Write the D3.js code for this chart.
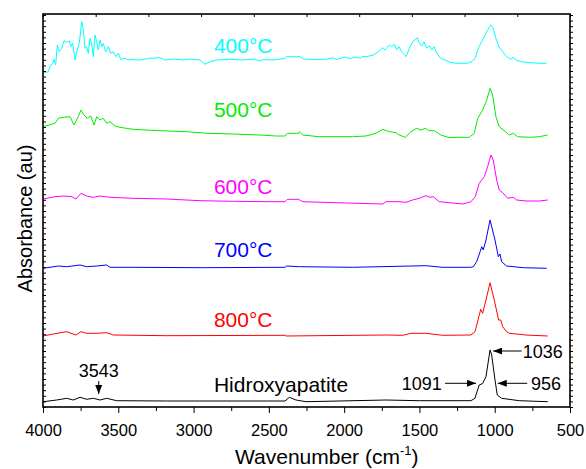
<!DOCTYPE html>
<html>
<head>
<meta charset="utf-8">
<script src="https://cdnjs.cloudflare.com/ajax/libs/d3/7.8.5/d3.min.js"></script>
<style>
  body { margin: 0; background: #fff; }
  svg { display: block; font-family: "Liberation Sans", Arial, sans-serif; }
</style>
</head>
<body>
<svg id="chart" width="586" height="469"></svg>
<script>
// spectra as [wavenumber (cm-1), absorbance (au, stacked)]
const spec400 = [
  [4000, 3.337], [3965, 3.353], [3954, 3.403], [3936, 3.437], [3927, 3.477], [3916, 3.42],
  [3905, 3.62], [3892, 3.553], [3876, 3.587], [3861, 3.663], [3843, 3.647], [3825, 3.66],
  [3816, 3.603], [3803, 3.637], [3787, 3.47], [3772, 3.577], [3759, 3.637], [3743, 3.853],
  [3732, 3.77], [3721, 3.587], [3710, 3.603], [3699, 3.537], [3688, 3.687], [3677, 3.637],
  [3666, 3.503], [3655, 3.72], [3643, 3.653], [3633, 3.57], [3621, 3.67], [3610, 3.603],
  [3600, 3.637], [3584, 3.553], [3566, 3.603], [3551, 3.537], [3533, 3.553], [3515, 3.503],
  [3500, 3.537], [3484, 3.477], [3455, 3.487], [3434, 3.47], [3411, 3.477], [3378, 3.47],
  [3356, 3.47], [3289, 3.487], [3223, 3.493], [3190, 3.47], [3135, 3.48], [3068, 3.47],
  [3024, 3.48], [2957, 3.47], [2924, 3.427], [2891, 3.453], [2846, 3.47], [2758, 3.477],
  [2670, 3.47], [2592, 3.48], [2570, 3.46], [2537, 3.473], [2471, 3.47], [2393, 3.487],
  [2382, 3.503], [2293, 3.503], [2271, 3.48], [2182, 3.473], [2116, 3.48], [2072, 3.493],
  [2050, 3.473], [2028, 3.487], [1994, 3.50], [1961, 3.485], [1928, 3.50], [1895, 3.487],
  [1875, 3.505], [1850, 3.503], [1806, 3.52],
  [1773, 3.553], [1744, 3.593], [1729, 3.57], [1700, 3.62], [1684, 3.603], [1667, 3.627],
  [1651, 3.57], [1636, 3.603], [1618, 3.553], [1589, 3.503], [1567, 3.587], [1545, 3.653],
  [1530, 3.67], [1514, 3.693], [1501, 3.637], [1485, 3.613], [1470, 3.653], [1452, 3.587],
  [1435, 3.613], [1419, 3.57], [1403, 3.603], [1385, 3.537], [1359, 3.487], [1330, 3.47],
  [1297, 3.447], [1253, 3.437], [1186, 3.437], [1153, 3.453], [1131, 3.487], [1109, 3.587],
  [1087, 3.653], [1053, 3.753], [1027, 3.82], [1014, 3.803], [992, 3.687], [970, 3.597],
  [947, 3.553], [921, 3.503], [894, 3.477], [877, 3.497], [859, 3.47], [821, 3.453],
  [766, 3.443], [699, 3.437], [655, 3.437]
];

const spec500 = [
  [3998, 2.803], [3920, 2.837], [3898, 2.887], [3865, 2.897], [3821, 2.903], [3794, 2.82],
  [3766, 2.903], [3748, 2.97], [3728, 2.92], [3706, 2.887], [3683, 2.91], [3661, 2.82],
  [3643, 2.903], [3621, 2.87], [3600, 2.887], [3577, 2.837], [3555, 2.853], [3522, 2.81],
  [3489, 2.797], [3402, 2.777], [3223, 2.763], [3046, 2.753], [2913, 2.737], [2736, 2.73],
  [2559, 2.72], [2448, 2.71], [2393, 2.71], [2378, 2.737], [2302, 2.737], [2298, 2.753],
  [2275, 2.72], [2165, 2.703], [2054, 2.703], [1943, 2.703], [1855, 2.71], [1789, 2.737],
  [1744, 2.777], [1700, 2.753], [1656, 2.743], [1634, 2.72], [1594, 2.697], [1556, 2.753],
  [1518, 2.787], [1490, 2.77], [1461, 2.787], [1435, 2.763], [1401, 2.763], [1357, 2.72],
  [1302, 2.693], [1235, 2.697], [1169, 2.697], [1136, 2.737], [1113, 2.887], [1080, 2.97],
  [1053, 3.07], [1031, 3.187], [1014, 3.12], [992, 2.903], [970, 2.803], [937, 2.763],
  [903, 2.72], [877, 2.737], [848, 2.703], [770, 2.697], [704, 2.703], [648, 2.72]
];

const spec600 = [
  [3998, 2.08], [3920, 2.103], [3865, 2.11], [3809, 2.103], [3781, 2.08], [3748, 2.137],
  [3710, 2.11], [3666, 2.097], [3621, 2.11], [3555, 2.097], [3402, 2.087], [3179, 2.08],
  [2957, 2.063], [2736, 2.057], [2514, 2.053], [2393, 2.053], [2378, 2.077], [2302, 2.077],
  [2275, 2.053], [2054, 2.043], [1744, 2.03], [1722, 2.053], [1634, 2.053], [1589, 2.047],
  [1545, 2.07], [1501, 2.087], [1457, 2.113], [1430, 2.097], [1408, 2.103], [1368, 2.053],
  [1302, 2.043], [1213, 2.03], [1158, 2.053], [1129, 2.103], [1103, 2.237], [1069, 2.303],
  [1047, 2.403], [1025, 2.52], [1010, 2.47], [987, 2.27], [970, 2.17], [947, 2.143],
  [914, 2.087], [877, 2.097], [854, 2.07], [792, 2.06], [704, 2.06], [648, 2.07]
];

const spec700 = [
  [3998, 1.387], [3898, 1.41], [3843, 1.403], [3754, 1.42], [3710, 1.403], [3643, 1.41],
  [3577, 1.42], [3555, 1.397], [3402, 1.397], [2957, 1.393], [2393, 1.397], [2382, 1.41],
  [2298, 1.403], [1943, 1.397], [1556, 1.41], [1457, 1.413], [1346, 1.397], [1158, 1.397],
  [1142, 1.403], [1120, 1.453], [1097, 1.553], [1086, 1.603], [1076, 1.57], [1058, 1.67],
  [1031, 1.87], [998, 1.67], [976, 1.503], [965, 1.53], [954, 1.453], [921, 1.41],
  [810, 1.393], [655, 1.387]
];

const spec800 = [
  [3998, 0.71], [3932, 0.73], [3843, 0.753], [3781, 0.72], [3748, 0.753], [3710, 0.737],
  [3643, 0.737], [3577, 0.743], [3533, 0.72], [3179, 0.713], [2393, 0.717], [2386, 0.71],
  [1722, 0.72], [1611, 0.717], [1556, 0.737], [1457, 0.737], [1346, 0.717], [1158, 0.72],
  [1131, 0.753], [1125, 0.787], [1093, 0.977], [1080, 0.937], [1058, 1.07], [1031, 1.243],
  [1003, 1.07], [974, 0.87], [960, 0.87], [947, 0.803], [921, 0.753], [903, 0.737],
  [792, 0.72], [648, 0.71]
];

const specHA = [
  [3998, 0.053], [3909, 0.07], [3843, 0.087], [3799, 0.07], [3754, 0.097], [3710, 0.077],
  [3666, 0.087], [3621, 0.07], [3577, 0.087], [3511, 0.063], [3179, 0.06], [2393, 0.06],
  [2364, 0.097], [2320, 0.07], [2253, 0.053], [1722, 0.07], [1501, 0.063], [1158, 0.063],
  [1131, 0.087], [1125, 0.12], [1103, 0.22], [1080, 0.235], [1058, 0.303], [1031, 0.57],
  [1020, 0.52], [998, 0.27], [983, 0.12], [954, 0.087], [837, 0.063], [648, 0.053]
];

const seriesNames = ["400°C", "500°C", "600°C", "700°C", "800°C", "Hidroxyapatite"];
const seriesData = [spec400, spec500, spec600, spec700, spec800, specHA];
const seriesColors = ["#00ffff", "#00ee00", "#ff00ff", "#0000ff", "#ff0000", "#000000"];
// label baseline (absorbance) for each trace name
const labelLevels = [3.537, 2.897, 2.127, 1.50, 0.803, 0.153];
const labelWavenumber = 2865;

const xMajorTicks = [4000, 3500, 3000, 2500, 2000, 1500, 1000, 500];

// peak annotations: text, text anchor point, arrow from -> to
const peakNotes = [
  { text: "3543", anchor: "middle", tx: 3630, ty: 0.30, from: [3630, 0.26], to: [3630, 0.13] },
  { text: "1036", anchor: "start", tx: 814, ty: 0.487, from: [821, 0.56], to: [1010, 0.56] },
  { text: "1091", anchor: "end", tx: 1352, ty: 0.17, from: [1330, 0.237], to: [1124, 0.237] },
  { text: "956", anchor: "start", tx: 759, ty: 0.17, from: [784, 0.237], to: [980, 0.237] }
];

const svg = d3.select("#chart");
const M = { left: 43, right: 570, top: 14, bottom: 407 };

const x = d3.scaleLinear().domain([4000, 500]).range([M.left, M.right]);
const y = d3.scaleLinear().domain([0, 3.93]).range([M.bottom, M.top]);

svg.append("defs").append("marker")
  .attr("id", "head")
  .attr("markerUnits", "userSpaceOnUse")
  .attr("markerWidth", 9).attr("markerHeight", 7)
  .attr("refX", 9).attr("refY", 3.5)
  .attr("orient", "auto")
  .append("path")
  .attr("d", "M0,0 L9,3.5 L0,7 Z")
  .attr("fill", "#000");

// spectra
const line = d3.line().x((d) => x(d[0])).y((d) => y(d[1]));
seriesData.forEach((data, i) => {
  svg.append("path")
    .datum(data)
    .attr("fill", "none")
    .attr("stroke", seriesColors[i])
    .attr("stroke-width", 1)
    .attr("stroke-linejoin", "round")
    .attr("d", line);

  svg.append("text")
    .attr("x", x(labelWavenumber))
    .attr("y", y(labelLevels[i]))
    .attr("fill", seriesColors[i])
    .attr("font-size", 21)
    .text(seriesNames[i]);
});

// annotations
peakNotes.forEach((n) => {
  svg.append("line")
    .attr("x1", x(n.from[0])).attr("y1", y(n.from[1]))
    .attr("x2", x(n.to[0])).attr("y2", y(n.to[1]))
    .attr("stroke", "#000").attr("stroke-width", 1)
    .attr("marker-end", "url(#head)");
  svg.append("text")
    .attr("x", x(n.tx)).attr("y", y(n.ty))
    .attr("text-anchor", n.anchor)
    .attr("font-size", 18)
    .text(n.text);
});

// axes
const minorX = d3.range(750, 4000, 500);
const topTicks = d3.range(0, 11).map((i) => 4000 - i * 350);
const yTicks = d3.range(0, 3.93, 0.056);

const gBottom = svg.append("g").attr("transform", `translate(0,${M.bottom})`);
gBottom.call(d3.axisBottom(x).tickValues(minorX).tickSize(4).tickFormat(""));
const gMajor = svg.append("g").attr("transform", `translate(0,${M.bottom})`);
gMajor.call(d3.axisBottom(x).tickValues(xMajorTicks).tickSize(6).tickPadding(11).tickFormat(d3.format("d")));
gMajor.selectAll("text").attr("font-size", 16.5).attr("font-family", "Liberation Sans, Arial, sans-serif").attr("fill", "#000");

svg.append("g").attr("transform", `translate(0,${M.top})`)
  .call(d3.axisTop(x).tickValues(topTicks).tickSize(-3).tickFormat(""));
svg.append("g").attr("transform", `translate(${M.left},0)`)
  .call(d3.axisLeft(y).tickValues(yTicks).tickSize(-3).tickFormat(""));
svg.append("g").attr("transform", `translate(${M.right},0)`)
  .call(d3.axisRight(y).tickValues(yTicks).tickSize(3).tickFormat(""));

svg.selectAll(".domain").remove();
svg.selectAll(".tick line").attr("stroke", "#000").attr("stroke-width", 1);

svg.append("rect")
  .attr("x", M.left).attr("y", M.top)
  .attr("width", M.right - M.left).attr("height", M.bottom - M.top)
  .attr("fill", "none").attr("stroke", "#000").attr("stroke-width", 1.6);

// titles
const xt = svg.append("text")
  .attr("x", 235).attr("y", 464)
  .attr("font-size", 21);
xt.append("tspan").text("Wavenumber (cm");
xt.append("tspan").attr("font-size", 13).attr("dy", -9).text("-1");
xt.append("tspan").attr("dy", 9).text(")");

svg.append("text")
  .attr("transform", "translate(32,218.5) rotate(-90)")
  .attr("text-anchor", "middle")
  .attr("font-size", 20)
  .text("Absorbance (au)");
</script>
</body>
</html>
